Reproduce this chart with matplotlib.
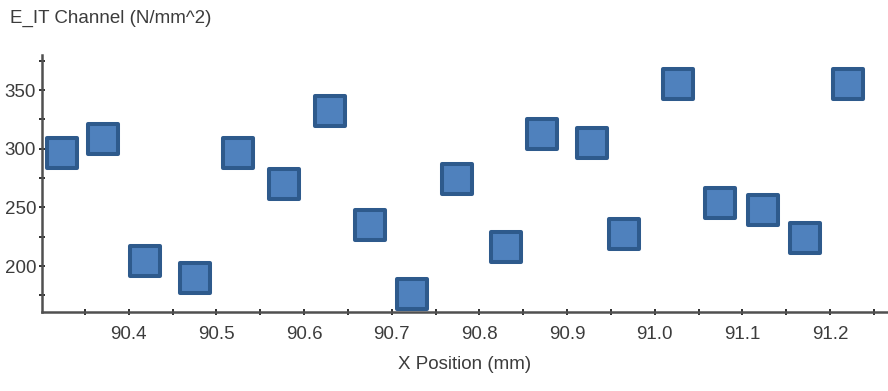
import matplotlib
matplotlib.use("Agg")
import matplotlib.pyplot as plt
from matplotlib.markers import MarkerStyle
from matplotlib.ticker import MultipleLocator, FormatStrFormatter

# Indentation channel readings along the scan line
x_position_mm = [90.324, 90.371, 90.419, 90.476, 90.525, 90.577, 90.630, 90.675,
                 90.723, 90.774, 90.830, 90.871, 90.928, 90.965, 91.027, 91.075,
                 91.123, 91.171, 91.221]
e_it_n_mm2 = [296, 308, 204, 190, 296, 270, 332, 235,
              176, 274, 216, 313, 305, 227, 355, 254,
              248, 224, 355]

title_text = "E_IT Channel (N/mm^2)"
xlabel_text = "X Position (mm)"

plt.rcParams['font.family'] = ['Liberation Sans', 'DejaVu Sans']

text_color = "#3c3c3c"
axis_color = "#505050"

fig = plt.figure(figsize=(8.88, 3.91), dpi=100)
ax = fig.add_axes([42 / 888, 1 - 312 / 391, 845 / 888, (312 - 55) / 391])

square = MarkerStyle("s", joinstyle="round")
ax.plot(x_position_mm, e_it_n_mm2, linestyle="none", marker=square,
        markersize=21.5, markerfacecolor="#4F81BD", markeredgecolor="#2E5A8C",
        markeredgewidth=2.9, clip_on=False, zorder=3)

ax.set_xlim(90.301, 91.265)
ax.set_ylim(160.8, 380)

ax.xaxis.set_major_locator(MultipleLocator(0.1))
ax.xaxis.set_minor_locator(MultipleLocator(0.05))
ax.yaxis.set_major_locator(MultipleLocator(50))
ax.yaxis.set_minor_locator(MultipleLocator(25))
ax.xaxis.set_major_formatter(FormatStrFormatter("%.1f"))
ax.yaxis.set_major_formatter(FormatStrFormatter("%d"))

for side in ("top", "right"):
    ax.spines[side].set_visible(False)
for side in ("left", "bottom"):
    ax.spines[side].set_color(axis_color)
    ax.spines[side].set_linewidth(1.8)

ax.tick_params(axis="both", which="both", direction="inout", length=4.5,
               width=1.4, color="#303030", labelcolor=text_color, labelsize=13.5)
ax.tick_params(axis="x", which="major", pad=8)
ax.tick_params(axis="y", which="major", pad=2)

ax.set_xlabel(xlabel_text, fontsize=13.5, color=text_color, labelpad=9)
fig.text(10 / 888, 1 - 18 / 391, title_text, fontsize=13.5, color=text_color,
         ha="left", va="center")

fig.savefig("out.png", dpi=100)
